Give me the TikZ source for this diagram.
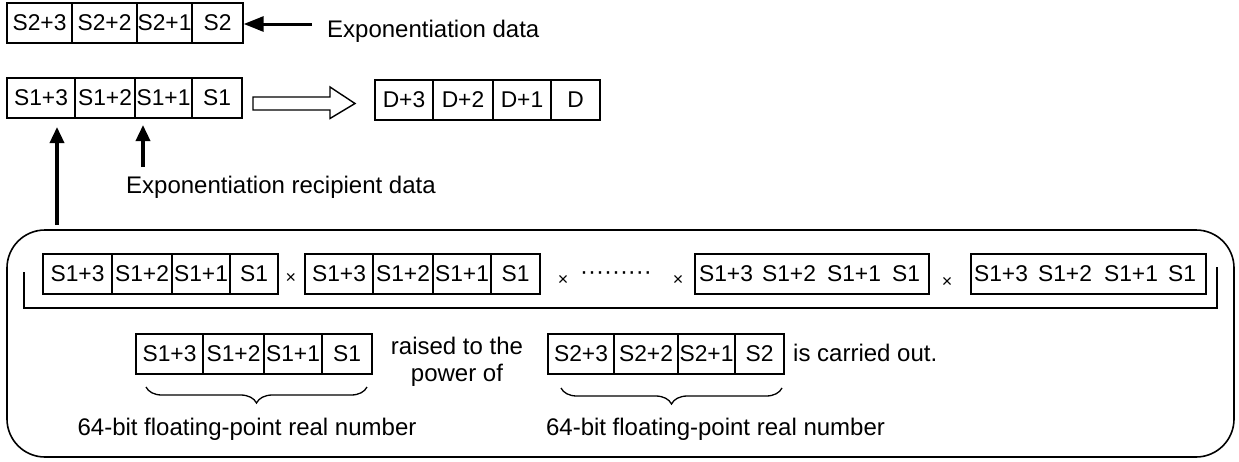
\documentclass[tikz,border=0pt]{standalone}
\usepackage{fontspec}
\setmainfont{Liberation Sans}
\usetikzlibrary{arrows.meta,decorations.pathreplacing,calc}
\newcommand\mycell[5]{\node[cell, minimum width={#3-#2}] (#1) at ({(#2+#3)/2},#4) {#5};}
\begin{document}
\begin{tikzpicture}[x=1pt,y=-1pt,
  cell/.style={draw, line width=1.4pt, minimum height=40pt, inner sep=0pt, font=\fontsize{22.8}{27}\selectfont},
  plain/.style={inner sep=0pt, font=\fontsize{22.8}{27}\selectfont},
  lbl/.style={inner sep=0pt, font=\fontsize{24}{27}\selectfont},
  times/.style={inner sep=0pt, font=\fontsize{18}{20}\selectfont},
  grp/.style={draw, line width=1.4pt, minimum height=40pt, inner sep=0pt},
  solidarrow/.style={line width=3.5pt, -{Triangle[length=16pt,width=14pt]}},
  brc/.style={decorate, decoration={brace, mirror, amplitude=16pt, aspect=0.5}, line width=1.3pt}
]
\useasboundingbox (0,0) rectangle (1239,461);

% top row S2
\mycell{a3}{7}{72}{23}{S2+3}
\mycell{a2}{72}{137}{23}{S2+2}
\mycell{a1}{137}{192}{23}{S2+1}
\mycell{a0}{192}{243}{23}{S2}
\node[lbl, anchor=base west] (expdata) at (327,37) {Exponentiation data};
\draw[line width=3pt, -{Triangle[length=20pt,width=15pt]}] (expdata.west |- 0,24) ++(-15,0) coordinate (ea) -- (a0.east |- 0,24);

% S1 row
\mycell{b3}{7}{75}{98}{S1+3}
\mycell{b2}{75}{135}{98}{S1+2}
\mycell{b1}{135}{192}{98}{S1+1}
\mycell{b0}{192}{242}{98}{S1}

% hollow arrow
\coordinate (ha) at (253,103.5);
\draw[line width=1.4pt, line join=miter] (ha) ++(0,-6.5) -- ++(77,0) -- ++(0,-10) -- (355,103.5) -- (330,118.5) -- ++(0,-8.5) -- (253,110) -- cycle;

% D row
\mycell{d3}{375}{433}{100}{D+3}
\mycell{d2}{433}{493}{100}{D+2}
\mycell{d1}{493}{551}{100}{D+1}
\mycell{d0}{551}{600}{100}{D}

% frame
\node[draw, line width=1.6pt, rounded corners=38pt, minimum width=1227pt, minimum height=227pt, inner sep=0pt] (frame) at (620.5,343.5) {};

% up arrows
\coordinate (lt) at (57,225);
\coordinate (lh) at (57,127);
\draw[solidarrow] (lt) -- (lh);
\coordinate (st) at (143,167);
\coordinate (sh) at (143,125);
\draw[solidarrow] (st) -- (sh);
\node[lbl, anchor=base west] (recip) at (126,193) {Exponentiation recipient data};

% inner row
\mycell{c13}{43}{112}{274}{S1+3}
\mycell{c12}{112}{172}{274}{S1+2}
\mycell{c11}{172}{230}{274}{S1+1}
\mycell{c10}{230}{278}{274}{S1}
\node[times] (x1) at (291,278) {×};
\mycell{e13}{305}{373}{274}{S1+3}
\mycell{e12}{373}{433}{274}{S1+2}
\mycell{e11}{433}{491}{274}{S1+1}
\mycell{e10}{491}{540}{274}{S1}
\node[times] (x2) at (563,280) {×};
\node[lbl] (dots) at (616,276) {·········};
\node[times] (x3) at (678,280) {×};
\node[grp, minimum width=234pt] (g3) at (812,274) {};
\node[plain] (g33) at (726,274) {S1+3};
\node[plain] (g32) at (789,274) {S1+2};
\node[plain] (g31) at (854,274) {S1+1};
\node[plain] (g30) at (906,274) {S1};
\node[times] (x4) at (947,282) {×};
\node[grp, minimum width=235pt] (g4) at (1088.5,274) {};
\node[plain] (g43) at (1001,274) {S1+3};
\node[plain] (g42) at (1065,274) {S1+2};
\node[plain] (g41) at (1131,274) {S1+1};
\node[plain] (g40) at (1182,274) {S1};
\draw[line width=1.6pt] (24,272) -- (24,308) -- (1217,308) -- (1217,267);

% bottom
\mycell{f3}{136}{203}{354}{S1+3}
\mycell{f2}{203}{264}{354}{S1+2}
\mycell{f1}{264}{322}{354}{S1+1}
\mycell{f0}{322}{372}{354}{S1}
\node[lbl, align=center] (raised) at (457,362) {raised to the\\power of};
\mycell{h3}{548}{614}{354}{S2+3}
\mycell{h2}{614}{678}{354}{S2+2}
\mycell{h1}{678}{735}{354}{S2+1}
\mycell{h0}{735}{784}{354}{S2}
\node[lbl, anchor=base west] (carried) at (793,361) {is carried out.};
\draw[brc] (146,387) -- (367,387);
\draw[brc] (561,388) -- (782,388);
\node[lbl, anchor=base] (l1) at (247,435) {64-bit floating-point real number};
\node[lbl, anchor=base] (l2) at (715.5,435) {64-bit floating-point real number};
\end{tikzpicture}
\end{document}
